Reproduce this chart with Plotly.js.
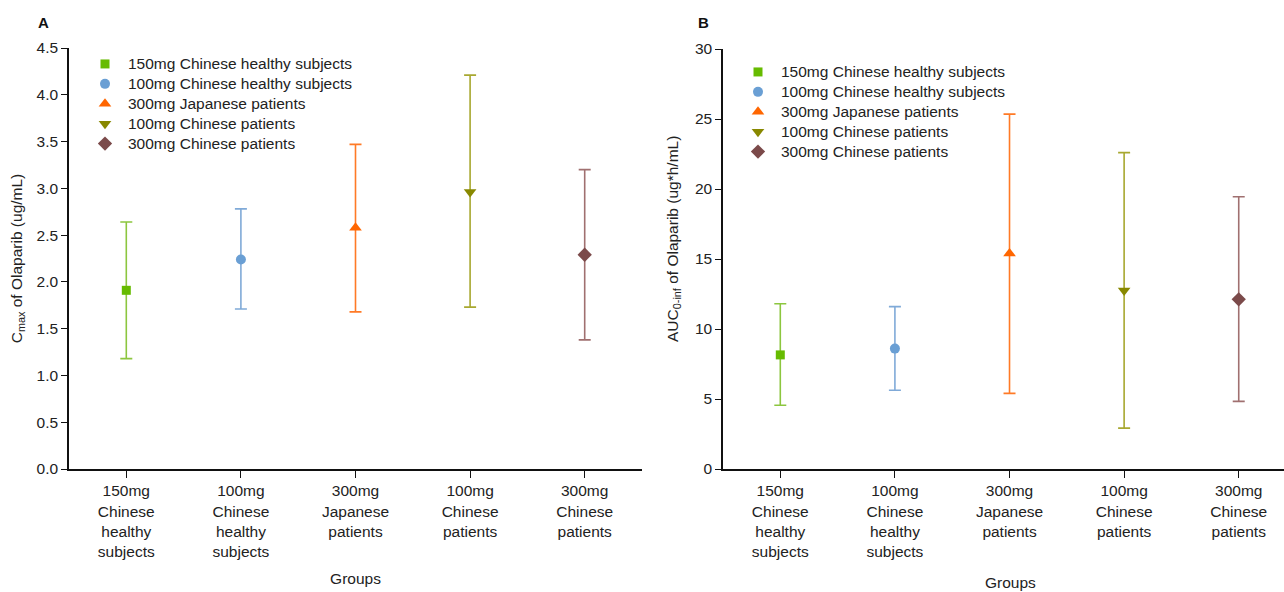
<!DOCTYPE html>
<html>
<head>
<meta charset="utf-8">
<script src="https://cdn.plot.ly/plotly-3.0.1.min.js"></script>
<style>html,body{margin:0;padding:0;background:#fff;}#chart{width:1284px;height:592px;}</style>
</head>
<body>
<div id="chart"></div>
<script>
// ---- data ----
var groupNames = ["150mg Chinese healthy subjects", "100mg Chinese healthy subjects", "300mg Japanese patients", "100mg Chinese patients", "300mg Chinese patients"];
var tickLabels = ["150mg<br>Chinese<br>healthy<br>subjects", "100mg<br>Chinese<br>healthy<br>subjects", "300mg<br>Japanese<br>patients", "100mg<br>Chinese<br>patients", "300mg<br>Chinese<br>patients"];

var cmaxMean  = [1.91, 2.24, 2.58, 2.96, 2.29];
var cmaxUpper = [2.64, 2.78, 3.47, 4.21, 3.20];
var cmaxLower = [1.18, 1.71, 1.68, 1.73, 1.38];

var aucMean  = [8.15, 8.6, 15.4, 12.75, 12.12];
var aucUpper = [11.8, 11.6, 25.35, 22.6, 19.45];
var aucLower = [4.55, 5.62, 5.4, 2.92, 4.83];

// ---- styles ----
var markerColors = ["#66bb00", "#6a9fd4", "#ff6600", "#888800", "#7b4a4a"];
var barColors    = ["#8cc63f", "#80aad8", "#ff7a26", "#a8a830", "#a07070"];
var symbols = ["square", "circle", "triangle-up", "triangle-down", "diamond"];
var sizes = [9, 10, 11, 11, 11];

var FONT = "Liberation Sans, Arial, sans-serif";
var FS = 15.5;
var traces = [];

function addPanel(mean, upper, lower, xa, ya, legendId) {
  for (var i = 0; i < groupNames.length; i++) {
    traces.push({
      type: "scatter", mode: "markers",
      name: "<span style='font-size:" + FS + "px'>" + groupNames[i] + "</span>",
      x: [tickLabels[i]], y: [mean[i]],
      xaxis: xa, yaxis: ya, legend: legendId,
      marker: {symbol: symbols[i], size: sizes[i], color: markerColors[i], line: {width: 0}},
      error_y: {type: "data", symmetric: false,
        array: [upper[i] - mean[i]], arrayminus: [mean[i] - lower[i]],
        color: barColors[i], thickness: 1.6, width: 6},
      hoverinfo: "x+y"
    });
  }
}
addPanel(cmaxMean, cmaxUpper, cmaxLower, "x", "y", "legend");
addPanel(aucMean, aucUpper, aucLower, "x2", "y2", "legend2");

var H = 592, W = 1284;
function yd(px){ return (H - px) / H; }

var axX = {
  type: "category", categoryorder: "array", categoryarray: tickLabels,
  showline: true, linecolor: "#111", linewidth: 1.5, mirror: false,
  ticks: "outside", ticklen: 7, tickwidth: 1.3, tickcolor: "#111",
  showgrid: false, zeroline: false,
  tickfont: {family: FONT, size: FS, color: "#222"},
  automargin: false, fixedrange: true
};
var axY = {
  showline: true, linecolor: "#111", linewidth: 1.5,
  ticks: "outside", ticklen: 6, tickwidth: 1.3, tickcolor: "#111",
  showgrid: false, zeroline: false,
  tickfont: {family: FONT, size: FS, color: "#222"},
  automargin: false, fixedrange: true
};

var layout = {
  width: W, height: H,
  margin: {l: 0, r: 0, t: 0, b: 0},
  paper_bgcolor: "#fff", plot_bgcolor: "#fff",
  font: {family: FONT, size: FS, color: "#222"},
  showlegend: true,
  xaxis: Object.assign({}, axX, {domain: [69 / W, 642 / W], range: [-0.5, 4.5], anchor: "y",
    title: {text: "Groups", font: {family: FONT, size: FS, color: "#222"}, standoff: 14}}),
  yaxis: Object.assign({}, axY, {domain: [yd(469), yd(48)], range: [0, 4.5], dtick: 0.5, tickformat: ".1f", anchor: "x",
    title: {text: "C<sub>max</sub> of Olaparib (ug/mL)", font: {family: FONT, size: FS, color: "#222"}, standoff: 10}}),
  xaxis2: Object.assign({}, axX, {domain: [723 / W, 1], range: [-0.5, 4.395], anchor: "y2"}),
  yaxis2: Object.assign({}, axY, {domain: [yd(469), yd(49)], range: [0, 30], dtick: 5, anchor: "x2"}),
  legend: {x: 82 / W, y: yd(49), xanchor: "left", yanchor: "top", bgcolor: "rgba(0,0,0,0)",
    font: {family: FONT, size: 13, color: "#222"}, tracegroupgap: 0, itemwidth: 36},
  legend2: {x: 735 / W, y: yd(57), xanchor: "left", yanchor: "top", bgcolor: "rgba(0,0,0,0)",
    font: {family: FONT, size: 13, color: "#222"}, tracegroupgap: 0, itemwidth: 36},
  annotations: [
    {text: "<b>A</b>", xref: "paper", yref: "paper", x: 44 / W, y: yd(22), xanchor: "center", yanchor: "middle", showarrow: false, font: {family: FONT, size: 15, color: "#111"}},
    {text: "<b>B</b>", xref: "paper", yref: "paper", x: 703 / W, y: yd(22), xanchor: "center", yanchor: "middle", showarrow: false, font: {family: FONT, size: 15, color: "#111"}},
    {text: "AUC<sub>0-inf</sub> of Olaparib (ug*h/mL)", xref: "paper", yref: "paper", x: 673 / W, y: yd(239), xanchor: "center", yanchor: "middle", textangle: -90, showarrow: false, font: {family: FONT, size: FS, color: "#222"}},
    {text: "Groups", xref: "paper", yref: "paper", x: 1010 / W, y: yd(582), xanchor: "center", yanchor: "middle", showarrow: false, font: {family: FONT, size: FS, color: "#222"}}
  ]
};

Plotly.newPlot("chart", traces, layout, {displayModeBar: false, staticPlot: false});
</script>
</body>
</html>
